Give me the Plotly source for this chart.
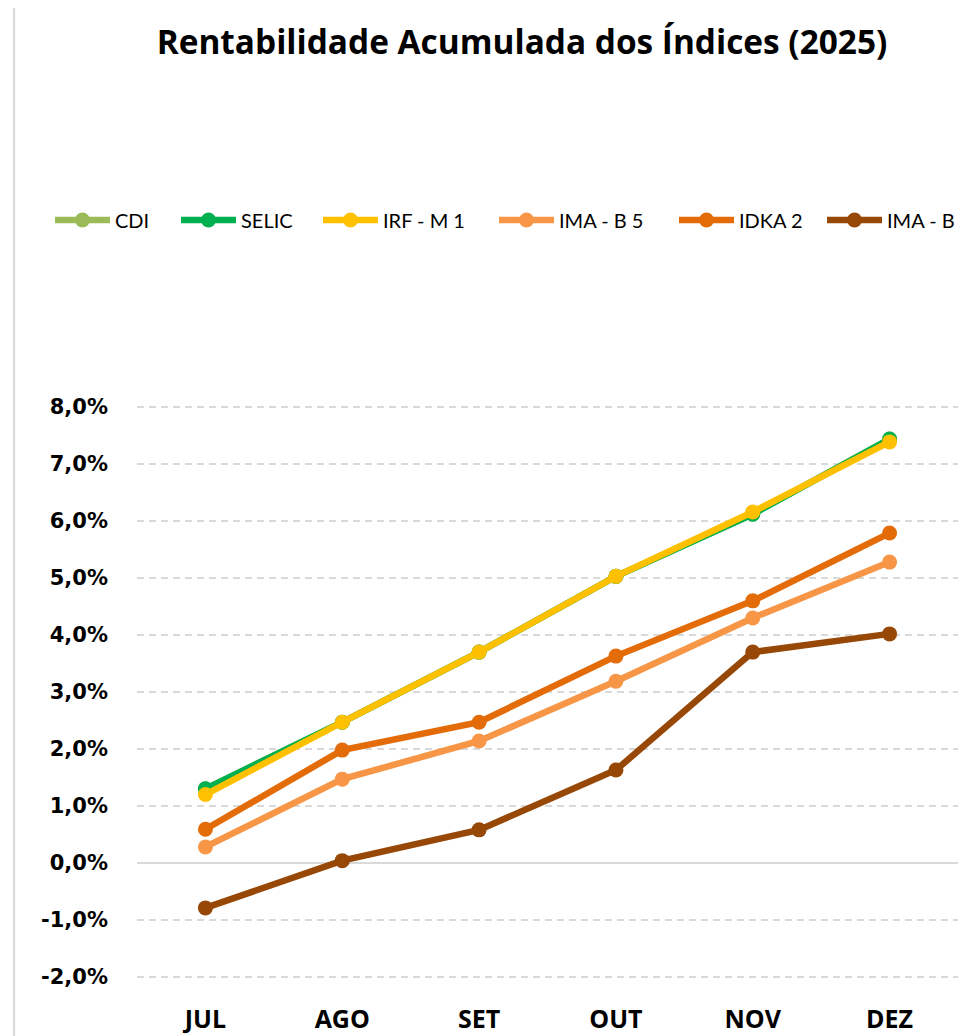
import plotly.graph_objects as go

months = ["JUL", "AGO", "SET", "OUT", "NOV", "DEZ"]
cdi = [1.30, 2.47, 3.70, 5.03, 6.13, 7.44]
selic = [1.30, 2.47, 3.70, 5.03, 6.12, 7.44]
irfm1 = [1.20, 2.47, 3.70, 5.03, 6.16, 7.39]
imab5 = [0.28, 1.47, 2.14, 3.19, 4.30, 5.28]
idka2 = [0.59, 1.98, 2.47, 3.63, 4.60, 5.79]
imab = [-0.79, 0.04, 0.58, 1.63, 3.70, 4.02]

series = [
    ("CDI", cdi, "#9BBB59"),
    ("SELIC", selic, "#00B050"),
    ("IRF - M 1", irfm1, "#FFC000"),
    ("IMA - B 5", imab5, "#F79646"),
    ("IDKA 2", idka2, "#E36C09"),
    ("IMA - B", imab, "#974706"),
]
# page x where each legend entry's line symbol starts
legend_x = [54, 180, 322, 498, 678, 826]

yticks = [-2, -1, 0, 1, 2, 3, 4, 5, 6, 7, 8]
yticklabels = ["-2,0%", "-1,0%", "0,0%", "1,0%", "2,0%", "3,0%", "4,0%",
               "5,0%", "6,0%", "7,0%", "8,0%"]

# page is rendered with an 8px body margin: work in figure coords = page - 8
OFF = 8
W, H = 966 - OFF, 1036 - OFF
L = 137 - OFF
R = W - (958.5 - OFF)
T = 407 - 1 - OFF
B = H - (977 + 1 - OFF)
PW = W - L - R

fig = go.Figure()
legends = {}
for i, (name, vals, color) in enumerate(series):
    lname = "legend" if i == 0 else f"legend{i + 1}"
    fig.add_trace(go.Scatter(
        x=months, y=vals, name=name, mode="lines+markers",
        line=dict(color=color, width=6.5),
        marker=dict(color=color, size=15),
        legend=lname,
    ))
    legends[lname] = dict(
        orientation="h", x=(legend_x[i] - 4 - OFF) / W, xref="container",
        xanchor="left", y=1 - (220 - OFF) / H, yref="container", yanchor="middle",
        font=dict(family="Lato", size=20, color="black"),
        itemwidth=55, bgcolor="rgba(0,0,0,0)",
    )

fig.update_layout(
    width=W, height=H,
    margin=dict(l=L, r=R, t=T, b=B, autoexpand=False),
    paper_bgcolor="white", plot_bgcolor="white",
    showlegend=True,
    title=dict(text="<b>Rentabilidade Acumulada dos Índices (2025)</b>",
               x=(522 - OFF) / W, xref="container", xanchor="center",
               y=1 - (42 - OFF) / H, yref="container", yanchor="middle",
               font=dict(family="Open Sans", size=33.4, color="black")),
    shapes=[dict(type="line", xref="paper", yref="paper",
                 x0=(14 - 137) / PW, x1=(14 - 137) / PW,
                 y0=-1, y1=2, line=dict(color="#d9d9d9", width=2))],
    **legends,
)

fig.update_xaxes(
    type="category", range=[-0.5, 5.5], showgrid=False, showline=False,
    ticks="", ticklabelstandoff=24,
    tickfont=dict(family="Open Sans", size=25, color="black", weight="bold"),
)
fig.update_yaxes(
    range=[-2.02, 8.02], tickvals=yticks, ticktext=yticklabels,
    showgrid=True, gridcolor="#d9d9d9", gridwidth=1.5, griddash="7px,5px",
    zeroline=True, zerolinecolor="#d9d9d9", zerolinewidth=1.5,
    showline=False, ticks="", ticklabelstandoff=28,
    tickfont=dict(family="DejaVu Sans", size=21, color="black", weight="bold"),
)

fig.write_html("out.html")
